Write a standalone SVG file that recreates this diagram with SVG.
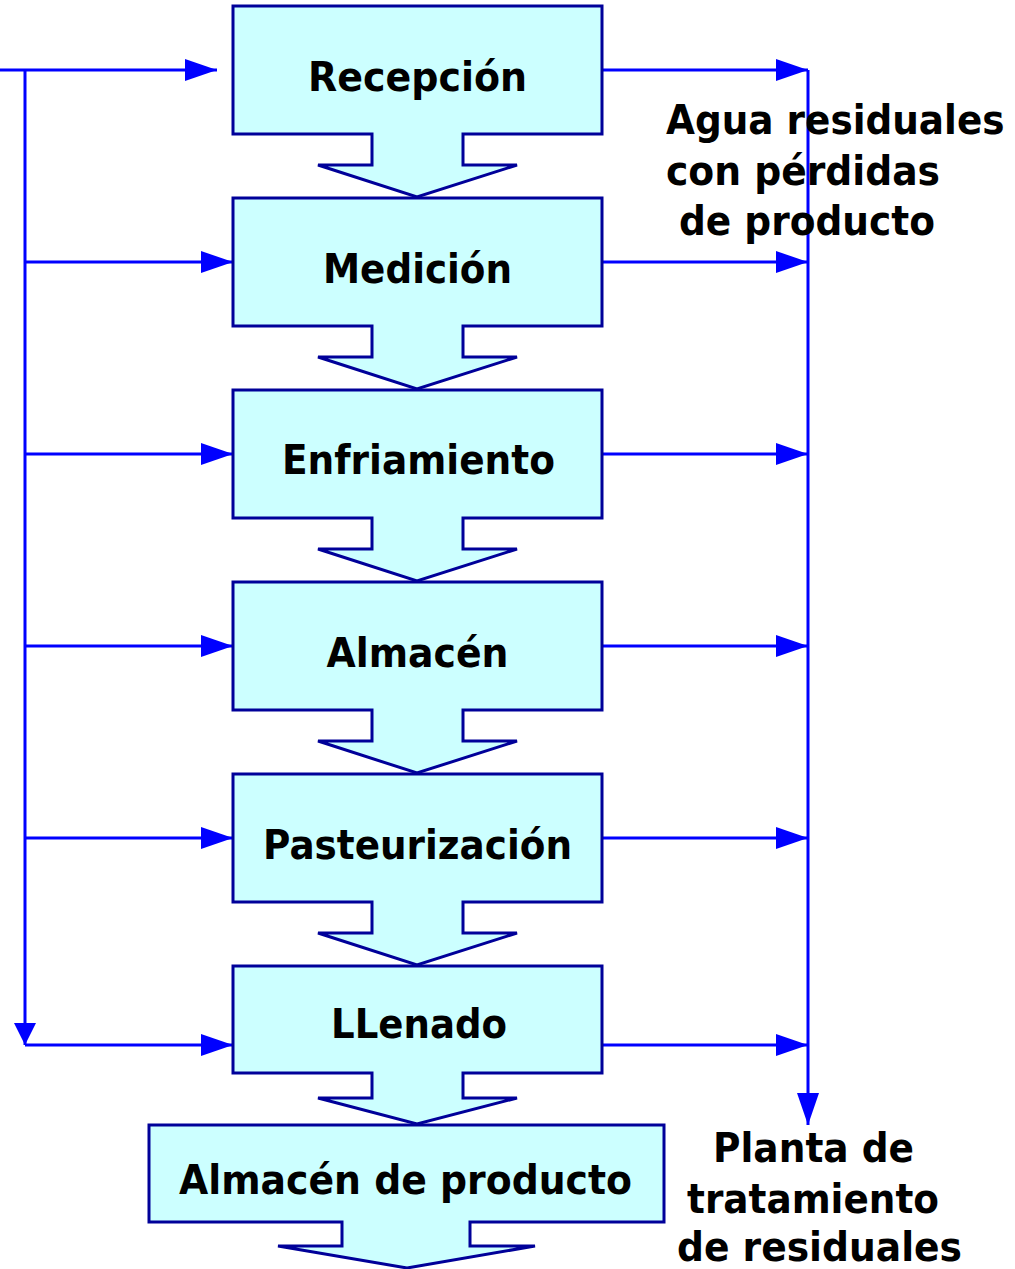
<svg xmlns="http://www.w3.org/2000/svg" width="1015" height="1269" viewBox="0 0 1015 1269">
<style>
.node{fill:#CCFFFF;stroke:#000099;stroke-width:3;stroke-linejoin:miter}
.lbl{font-family:"DejaVu Sans","Liberation Sans",sans-serif;font-weight:bold;font-size:40px;fill:#000}
.mid{text-anchor:middle}
.con{fill:none;stroke:#0000FF;stroke-width:3}
</style>
<defs>
<marker id="ah" markerUnits="userSpaceOnUse" viewBox="0 0 32 22" refX="32" refY="11" markerWidth="32" markerHeight="22" orient="auto">
<polygon points="0,0 32,11 0,22" fill="#0000FF"/>
</marker>
<marker id="ahs" markerUnits="userSpaceOnUse" viewBox="0 0 22 22" refX="22" refY="11" markerWidth="22" markerHeight="22" orient="auto">
<polygon points="0,0 22,11 0,22" fill="#0000FF"/>
</marker>
</defs>
<g id="connectors">
<line class="con" x1="0" y1="70" x2="217" y2="70" marker-end="url(#ah)"/>
<line class="con" x1="25" y1="70" x2="25" y2="1045" marker-end="url(#ahs)"/>
<line class="con" x1="25" y1="262" x2="233" y2="262" marker-end="url(#ah)"/>
<line class="con" x1="25" y1="454" x2="233" y2="454" marker-end="url(#ah)"/>
<line class="con" x1="25" y1="646" x2="233" y2="646" marker-end="url(#ah)"/>
<line class="con" x1="25" y1="838" x2="233" y2="838" marker-end="url(#ah)"/>
<line class="con" x1="25" y1="1045" x2="233" y2="1045" marker-end="url(#ah)"/>
<line class="con" x1="602" y1="70" x2="808" y2="70" marker-end="url(#ah)"/>
<line class="con" x1="602" y1="262" x2="808" y2="262" marker-end="url(#ah)"/>
<line class="con" x1="602" y1="454" x2="808" y2="454" marker-end="url(#ah)"/>
<line class="con" x1="602" y1="646" x2="808" y2="646" marker-end="url(#ah)"/>
<line class="con" x1="602" y1="838" x2="808" y2="838" marker-end="url(#ah)"/>
<line class="con" x1="602" y1="1045" x2="808" y2="1045" marker-end="url(#ah)"/>
<line class="con" x1="808" y1="70" x2="808" y2="1125" marker-end="url(#ah)"/>
</g>
<g id="recepcion">
<polygon class="node" points="233,6 602,6 602,134 463,134 463,165 517,165 417,197 318,165 372,165 372,134 233,134"/>
<text class="lbl mid" x="417.5" y="91" textLength="219" lengthAdjust="spacingAndGlyphs">Recepción</text>
</g>
<g id="medicion">
<polygon class="node" points="233,198 602,198 602,326 463,326 463,357 517,357 417,389 318,357 372,357 372,326 233,326"/>
<text class="lbl mid" x="417.5" y="283" textLength="189" lengthAdjust="spacingAndGlyphs">Medición</text>
</g>
<g id="enfriamiento">
<polygon class="node" points="233,390 602,390 602,518 463,518 463,549 517,549 417,581 318,549 372,549 372,518 233,518"/>
<text class="lbl mid" x="418.5" y="474" textLength="273" lengthAdjust="spacingAndGlyphs">Enfriamiento</text>
</g>
<g id="almacen">
<polygon class="node" points="233,582 602,582 602,710 463,710 463,741 517,741 417,773 318,741 372,741 372,710 233,710"/>
<text class="lbl mid" x="417.5" y="667" textLength="182" lengthAdjust="spacingAndGlyphs">Almacén</text>
</g>
<g id="pasteurizacion">
<polygon class="node" points="233,774 602,774 602,902 463,902 463,933 517,933 417,965 318,933 372,933 372,902 233,902"/>
<text class="lbl mid" x="417.5" y="859" textLength="309" lengthAdjust="spacingAndGlyphs">Pasteurización</text>
</g>
<g id="llenado">
<polygon class="node" points="233,966 602,966 602,1073 463,1073 463,1098 517,1098 417,1124 318,1098 372,1098 372,1073 233,1073"/>
<text class="lbl mid" x="419" y="1038" textLength="176" lengthAdjust="spacingAndGlyphs">LLenado</text>
</g>
<g id="almacen-producto">
<polygon class="node" points="149,1125 664,1125 664,1222 470,1222 470,1246 535,1246 407,1268 278,1246 342,1246 342,1222 149,1222"/>
<text class="lbl mid" x="405.5" y="1194" textLength="453" lengthAdjust="spacingAndGlyphs">Almacén de producto</text>
</g>
<g id="agua-residuales">
<text class="lbl" transform="translate(666,134) scale(0.935,1)">Agua residuales</text>
<text class="lbl" x="666" y="185" textLength="274" lengthAdjust="spacingAndGlyphs">con pérdidas</text>
<text class="lbl" x="679" y="235" textLength="256" lengthAdjust="spacingAndGlyphs">de producto</text>
</g>
<g id="planta-tratamiento">
<text class="lbl" x="713" y="1162" textLength="201" lengthAdjust="spacingAndGlyphs">Planta de</text>
<text class="lbl" x="687" y="1213" textLength="252" lengthAdjust="spacingAndGlyphs">tratamiento</text>
<text class="lbl" x="677" y="1261" textLength="285" lengthAdjust="spacingAndGlyphs">de residuales</text>
</g>
</svg>
